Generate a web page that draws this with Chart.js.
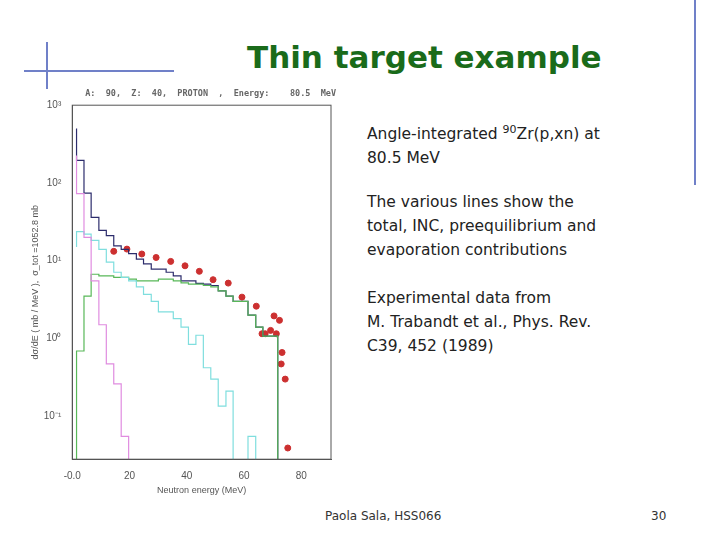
<!DOCTYPE html>
<html>
<head>
<meta charset="utf-8">
<script src="https://cdn.jsdelivr.net/npm/chart.js@4/dist/chart.umd.min.js"></script>
<style>
  body { margin: 0; width: 720px; height: 540px; background: #fff; position: relative; overflow: hidden; font-family: "DejaVu Sans", sans-serif; }
  #title { position: absolute; left: 247px; top: 39px; font-size: 31px; font-weight: bold; color: #1a6b1a; font-family: "DejaVu Sans", sans-serif; }
  .txt { position: absolute; left: 367px; font-size: 15.5px; color: #222; line-height: 24px; }
  .foot { position: absolute; top: 509px; font-size: 12px; color: #333; }
  .bl { position: absolute; background: #7080c8; }
  #wrap { position: absolute; left: 30px; top: 89px; width: 306px; height: 407px; }
</style>
</head>
<body>
<div class="bl" style="left:24px;top:70px;width:150px;height:2px"></div>
<div class="bl" style="left:46px;top:42px;width:2px;height:47px"></div>
<div class="bl" style="left:694px;top:0;width:2px;height:185px"></div>
<div id="title">Thin target example</div>
<div class="txt" style="top:118px">Angle-integrated <sup style="font-size:11px">90</sup>Zr(p,xn) at<br>80.5 MeV</div>
<div class="txt" style="top:190px">The various lines show the<br>total, INC, preequilibrium and<br>evaporation contributions</div>
<div class="txt" style="top:286px">Experimental data from<br>M. Trabandt et al., Phys. Rev.<br>C39, 452 (1989)</div>
<div class="foot" style="left:325px">Paola Sala, HSS066</div>
<div class="foot" style="left:651px">30</div>
<div id="wrap"><canvas id="c"></canvas></div>
<script>
const edges = [1.5,4.1,6.6,9.3,11.9,14.5,17.1,19.7,22.4,24.9,27.6,30.1,32.8,35.3,38,40.6,43.2,45.8,48.4,51,53.7,56.2,58.9,61.4,64.1,66.6,69.3,71.8,73.6];
const total = [500,195,74,36,24.5,21,15.5,14,12.3,10.5,9.1,7.8,7.8,7.1,6.4,5.5,5.5,5.1,5.0,4.8,4.1,3.5,3.0,3.0,2.0,1.4,1.07,1.07];
const inc = [0.001,0.69,3.5,6.7,6.4,6.4,6.1,6.1,5.8,5.5,5.5,5.5,5.8,5.8,5.5,5.2,5.0,5.0,4.8,4.6,4.1,3.5,3.0,3.0,2.0,1.4,1.07,1.07];
const preeq = [15,23.6,22,18.3,14,9.6,7.1,6.1,5.5,4.6,3.7,3.0,2.2,2.2,1.8,1.4,0.84,1.1,0.42,0.3,0.135,0.21,0.001,0.001,0.055,0.001,0.001,0.001];
const evap = [226,73,20,5.5,1.5,0.47,0.26,0.055,0.001,0.001,0.001,0.001,0.001,0.001,0.001,0.001,0.001,0.001,0.001,0.001,0.001,0.001,0.001,0.001,0.001,0.001,0.001,0.001];
const expE = [14.5,19.1,24.3,29.3,34.4,39.4,44.4,49.2,54.5,59.3,64.3,66.3,67.4,69.3,70.5,71.3,72.4,73.3,73.0,74.4,75.3];
const expY = [13.2,14.1,12.2,11.0,9.8,8.6,7.3,5.7,5.15,3.4,2.6,1.15,1.15,1.27,1.95,1.15,1.71,0.66,0.47,0.30,0.039];
const yTicks = {1000:'10³',100:'10²',10:'10¹',1:'10⁰',0.1:'10⁻¹'};

function hist(vals) {
  const pts = vals.map((v, i) => ({x: edges[i], y: v}));
  pts.push({x: edges[edges.length - 1], y: 0.001});
  return pts;
}
function line(label, vals, color) {
  return {label, data: hist(vals), borderColor: color, borderWidth: 1.2, stepped: 'after', pointRadius: 0, fill: false};
}

// frame around the plot, like the original figure
const frame = {
  id: 'frame',
  afterDraw(chart) {
    const {ctx, chartArea: a} = chart;
    ctx.save();
    ctx.strokeStyle = '#555';
    ctx.lineWidth = 1;
    ctx.strokeRect(a.left, a.top, a.right - a.left, a.bottom - a.top);
    ctx.restore();
  }
};

new Chart(document.getElementById('c'), {
  type: 'line',
  data: {
    datasets: [
      line('evaporation', evap, '#e08ce0'),
      line('preequilibrium', preeq, '#7fdede'),
      line('INC', inc, '#58b858'),
      line('total', total, '#2c2c6c'),
      {label: 'data', data: expE.map((x, i) => ({x, y: expY[i]})), showLine: false, pointRadius: 3, backgroundColor: '#cc3030', borderColor: '#cc3030'}
    ]
  },
  options: {
    responsive: true, maintainAspectRatio: false, animation: false,
    plugins: {
      legend: {display: false},
      title: {display: true, text: 'A:  90,  Z:  40,  PROTON  ,  Energy:    80.5  MeV', align: 'end', color: '#666', font: {size: 8.5, family: 'DejaVu Sans Mono'}, padding: {top: 0, bottom: 6}}
    },
    scales: {
      x: {
        type: 'linear', min: 0, max: 90.4,
        grid: {display: false},
        border: {color: '#555'},
        afterBuildTicks: ax => { ax.ticks = [0, 20, 40, 60, 80].map(v => ({value: v})); },
        ticks: {autoSkip: false, color: '#555', font: {size: 10}, callback: v => v === 0 ? '-0.0' : v},
        title: {display: true, text: 'Neutron energy (MeV)', color: '#555', font: {size: 9}, padding: 0}
      },
      y: {
        type: 'logarithmic', min: 0.028, max: 1000,
        grid: {display: false},
        border: {color: '#555'},
        afterBuildTicks: ax => { ax.ticks = [0.1, 1, 10, 100, 1000].map(v => ({value: v})); },
        ticks: {color: '#555', font: {size: 10}, callback: v => yTicks[v] || ''},
        title: {display: true, text: 'dσ/dE ( mb / MeV ),  σ_tot =1052.8 mb', color: '#555', font: {size: 9}, padding: 0}
      }
    }
  },
  plugins: [frame]
});
</script>
</body>
</html>
